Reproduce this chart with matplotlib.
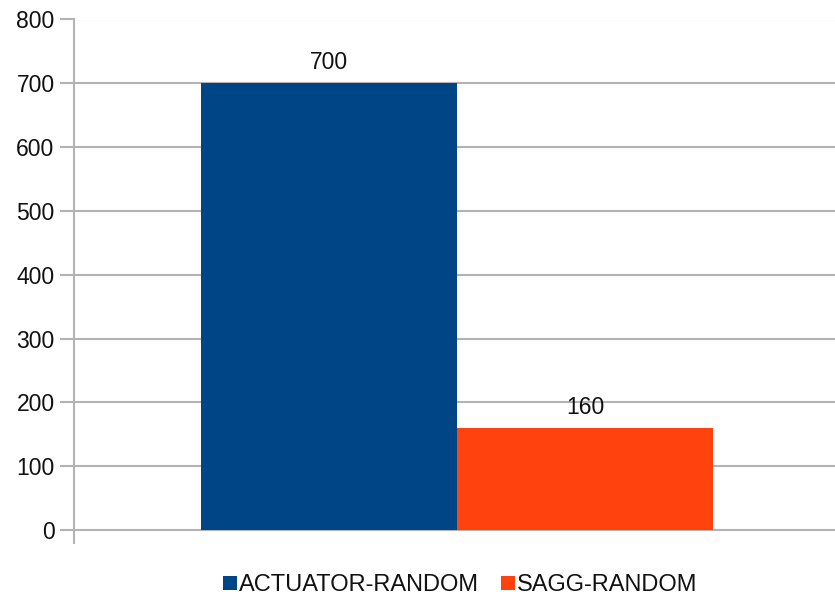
import matplotlib
matplotlib.use("Agg")
import matplotlib.pyplot as plt
from matplotlib.lines import Line2D

series = ["ACTUATOR-RANDOM", "SAGG-RANDOM"]
values = [700, 160]
colors = ["#004586", "#ff420e"]
yticks = [0, 100, 200, 300, 400, 500, 600, 700, 800]

plt.rcParams['font.family'] = ['Liberation Sans', 'DejaVu Sans']

W, H = 835, 598
fig = plt.figure(figsize=(W / 100, H / 100), dpi=100)
# axes: left at x=74px, 0 at y=530px, 800 at y=19.5px; extend down to -20
left = 74 / W
right_px = 840
y800 = 19.5
y0 = 530
px_per_unit = (y0 - y800) / 800
ymin = -20
bottom_px = y0 + (-ymin) * px_per_unit
ax = fig.add_axes([left, 1 - bottom_px / H, (right_px - 74) / W, (bottom_px - y800) / H])
ax.set_ylim(ymin, 800)
ax.set_xlim(-0.5, 0.5)

bw = 256 / (right_px - 74)
xs = [-bw / 2, bw / 2]
for x, v, c, s in zip(xs, values, colors, series):
    ax.bar(x, v, width=bw, color=c, label=s, zorder=3)
    ax.annotate(str(v), (x, v), xytext=(0, 10), textcoords='offset points',
                ha='center', va='baseline', fontsize=16.5, color='#111111')

for t in yticks:
    ax.axhline(t, color='#b3b3b3', lw=1.5, zorder=1)
ax.set_yticks(yticks)
ax.set_yticklabels([str(t) for t in yticks])
ax.tick_params(axis='y', length=10, width=1.5, color='#b3b3b3', labelsize=16.5,
               labelcolor='#111111', pad=4)
ax.set_xticks([])
for sp in ['top', 'right', 'bottom']:
    ax.spines[sp].set_visible(False)
ax.spines['left'].set_color('#b3b3b3')
ax.spines['left'].set_linewidth(1.5)

handles = [Line2D([], [], marker='s', linestyle='none', markersize=10.5, color=c,
                  markeredgewidth=0) for c in colors]
fig.legend(handles, series, loc='center', bbox_to_anchor=(460 / W, 1 - 585 / H),
           ncol=2, frameon=False, fontsize=17, handlelength=0.6, handletextpad=0.1,
           columnspacing=0.9, labelcolor='#111111')

fig.savefig("out.png", dpi=100)
